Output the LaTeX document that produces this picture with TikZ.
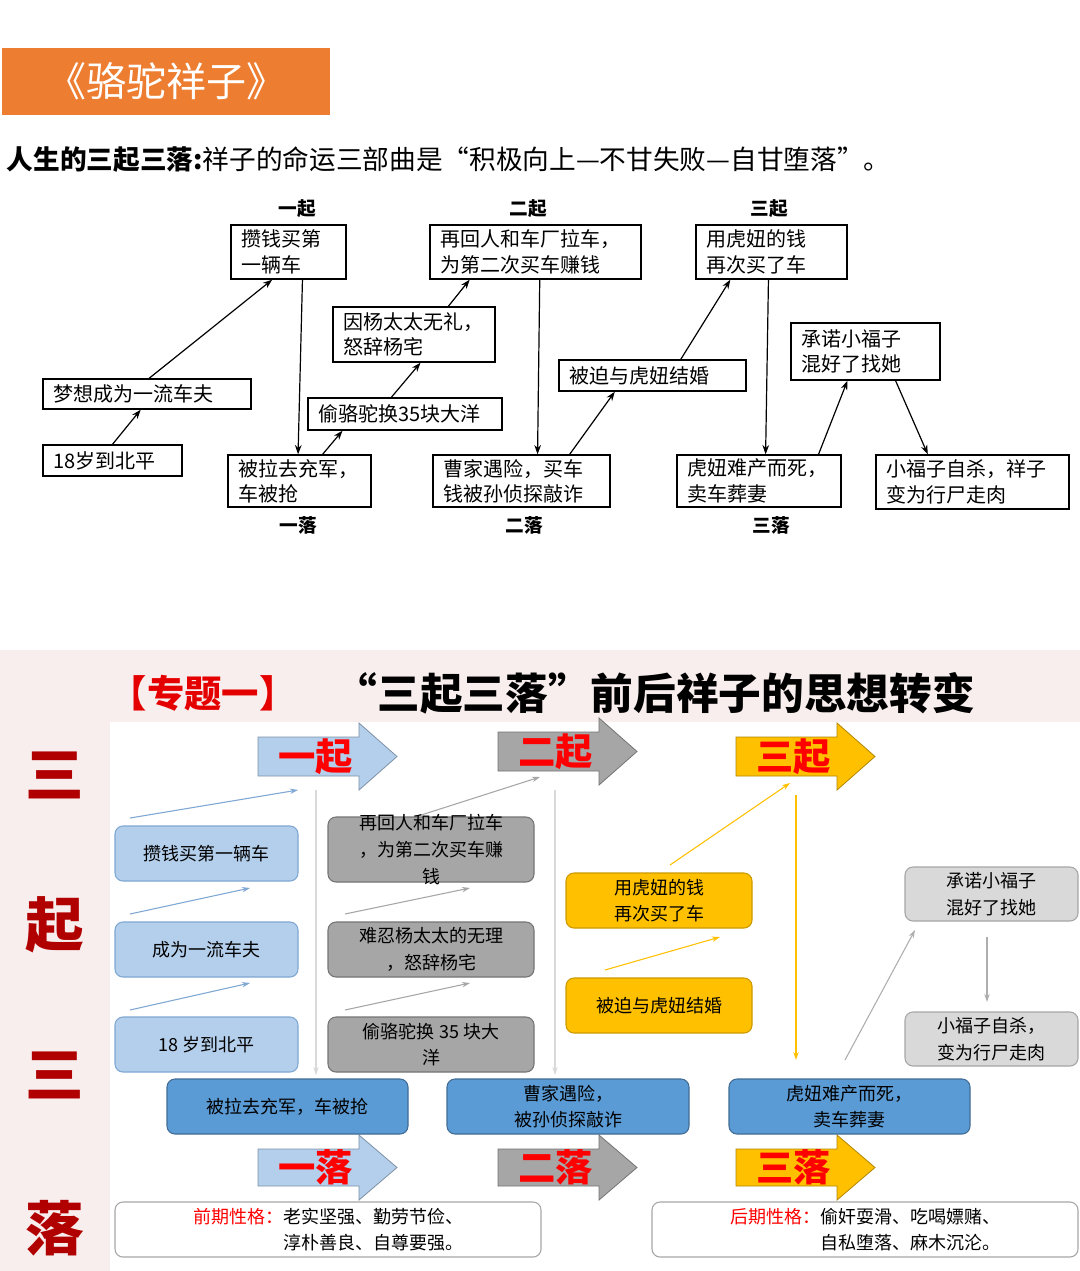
\documentclass[tikz,border=0pt]{standalone}
\usepackage{fontspec}
\setmainfont{Noto Sans CJK SC}
\usetikzlibrary{fit,calc,arrows.meta}
\definecolor{org}{HTML}{ED7D31}
\definecolor{lb}{HTML}{B4CFEC}
\definecolor{lbd}{HTML}{7FA7D3}
\definecolor{mb}{HTML}{5B9BD5}
\definecolor{gr}{HTML}{A6A6A6}
\definecolor{lg}{HTML}{D9D9D9}
\definecolor{yl}{HTML}{FFC000}
\definecolor{rd}{HTML}{B00000}
\definecolor{pk}{HTML}{F8EEEE}
\tikzset{
 tb/.style={draw=black,line width=1pt,fill=white,inner sep=0},
 ttext/.style={font=\fontsize{15}{19}\selectfont,align=left,anchor=west},
 lab/.style={font=\bfseries\fontsize{14}{16}\selectfont},
 ar/.style={-{Stealth[length=7pt,width=5pt]},line width=0.9pt},
 rb/.style={rounded corners=6pt,inner sep=0,line width=0.8pt},
 btext/.style={font=\fontsize{13.5}{20}\selectfont,align=center},
 thin/.style={-{Stealth[length=6pt,width=4pt]},line width=0.8pt},
 bigc/.style={text=rd,font=\bfseries\fontsize{44}{44}\selectfont},
}
\newcommand{\tbox}[6]{\node[tb,fit={(#2,#3)(#4,#5)}] (#1) {};\node[ttext] (#1t) at ($(#1.west)+(6,0)$) {#6};}
\newcommand{\rbox}[7]{\node[rb,#6,fit={(#2,#3)(#4,#5)}] (#1) {};\node[btext] (#1t) at (#1.center) {#7};}
\newcommand{\barrow}[6]{\fill[#6,draw=#6!70!black,line width=0.6pt] (#2,#3+14) -- (#4-38,#3+14) -- (#4-38,#3) -- (#4,{(#3+#5)/2}) -- (#4-38,#5) -- (#4-38,#5-14) -- (#2,#5-14) -- cycle;
 \node[text=red,font=\bfseries\fontsize{28}{28}\selectfont] (#1) at ({(#2+#4)/2-12},{(#3+#5)/2}) {\csname ba#1\endcsname};}
\begin{document}
\begin{tikzpicture}[x=0.75pt,y=-0.75pt]
\useasboundingbox (0,0) rectangle (1080,1271);
\fill[white] (0,0) rectangle (1080,650);
% header
\node[fill=org,fit={(2,48)(330,115)},inner sep=0] (hd) {};
\node[text=white,font=\fontsize{30}{30}\selectfont] (hdt) at (hd.center) {《骆驼祥子》};
\node[anchor=west,font=\fontsize{20}{22}\selectfont] (ttl) at (2,160) {\textbf{人生的三起三落:}祥子的命运三部曲是“积极向上—不甘失败—自甘堕落”。};
% top diagram
\node[lab] (q1) at (297,209) {一起};
\node[lab] (q2) at (528,209) {二起};
\node[lab] (q3) at (769,209) {三起};
\node[lab] (l1) at (298,525) {一落};
\node[lab] (l2) at (524,525) {二落};
\node[lab] (l3) at (771,525) {三落};
\tbox{a1}{231}{225}{346}{279}{攒钱买第\\一辆车}
\tbox{a2}{430}{225}{641}{279}{再回人和车厂拉车，\\为第二次买车赚钱}
\tbox{a3}{696}{225}{847}{279}{用虎妞的钱\\再次买了车}
\tbox{yang}{333}{307}{495}{362}{因杨太太无礼，\\怒辞杨宅}
\tbox{dream}{43}{379}{251}{409}{梦想成为一流车夫}
\tbox{bp}{43}{445}{182}{476}{18岁到北平}
\tbox{camel}{308}{398}{502}{430}{偷骆驼换35块大洋}
\tbox{marry}{559}{360}{746}{391}{被迫与虎妞结婚}
\tbox{prom}{791}{323}{940}{380}{承诺小福子\\混好了找她}
\tbox{b1}{228}{455}{371}{507}{被拉去充军，\\车被抢}
\tbox{b2}{433}{455}{610}{507}{曹家遇险，买车\\钱被孙侦探敲诈}
\tbox{b3}{677}{455}{841}{507}{虎妞难产而死，\\卖车葬妻}
\tbox{suic}{876}{455}{1069}{509}{小福子自杀，祥子\\变为行尸走肉}
\newcommand{\con}[4]{\draw[ar] ($(#1.north west)!#2!(#1.north east)$) -- ($(#3.south west)!#4!(#3.south east)$);}
\newcommand{\cdn}[4]{\draw[ar] ($(#1.south west)!#2!(#1.south east)$) -- ($(#3.north west)!#4!(#3.north east)$);}
\con{bp}{0.5}{dream}{0.47}
\con{dream}{0.51}{a1}{0.36}
\cdn{a1}{0.62}{b1}{0.49}
\con{b1}{0.66}{camel}{0.18}
\con{camel}{0.43}{yang}{0.54}
\con{yang}{0.71}{a2}{0.19}
\cdn{a2}{0.52}{b2}{0.59}
\con{b2}{0.77}{marry}{0.3}
\con{marry}{0.65}{a3}{0.23}
\cdn{a3}{0.48}{b3}{0.54}
\con{b3}{0.86}{prom}{0.38}
\cdn{prom}{0.70}{suic}{0.27}
% bottom
\fill[pk] (0,650) rectangle (1080,1271);
\fill[white] (110,722) rectangle (1080,1271);
\node[anchor=west,text=red!90!black,font=\bfseries\fontsize{28}{28}\selectfont] (zt) at (105,693) {【专题一】};
\node[anchor=west,font=\bfseries\fontsize{32}{32}\selectfont] (zt2) at (330,693) {“三起三落”前后祥子的思想转变};
\node[bigc] (c1) at (55,775) {三};
\node[bigc] (c2) at (55,925) {起};
\node[bigc] (c3) at (55,1075) {三};
\node[bigc] (c4) at (55,1228) {落};
\expandafter\def\csname baqa\endcsname{一起}
\expandafter\def\csname baqb\endcsname{二起}
\expandafter\def\csname baqc\endcsname{三起}
\expandafter\def\csname bala\endcsname{一落}
\expandafter\def\csname balb\endcsname{二落}
\expandafter\def\csname balc\endcsname{三落}
\barrow{qa}{258}{723}{397}{790}{lb}
\barrow{qb}{498}{718}{637}{785}{gr}
\barrow{qc}{736}{723}{875}{790}{yl}
\barrow{la}{258}{1135}{397}{1200}{lb}
\barrow{lb}{498}{1135}{637}{1200}{gr}
\barrow{lc}{736}{1135}{875}{1200}{yl}
% thin arrows
\draw[thin,draw=lbd] (130,818) -- (298,790);
\draw[thin,draw=lbd] (130,914) -- (250,888);
\draw[thin,draw=lbd] (130,1010) -- (250,983);
\draw[thin,draw=lg] (316,790) -- (316,1075);
\draw[thin,draw=gr] (415,817) -- (540,777);
\draw[thin,draw=gr] (345,914) -- (470,888);
\draw[thin,draw=gr] (345,1010) -- (470,983);
\draw[thin,draw=lg] (555,790) -- (555,1075);
\draw[thin,draw=yl] (670,865) -- (790,783);
\draw[thin,draw=yl] (605,970) -- (720,937);
\draw[thin,draw=yl] (796,795) -- (796,1060);
\draw[thin,draw=lg!80!black] (845,1060) -- (915,930);
\draw[thin,draw=lg!80!black] (987,937) -- (987,1002);
% boxes
\rbox{d1}{115}{826}{298}{881}{fill=lb,draw=lbd}{攒钱买第一辆车}
\rbox{d2}{115}{922}{298}{977}{fill=lb,draw=lbd}{成为一流车夫}
\rbox{d3}{115}{1017}{298}{1072}{fill=lb,draw=lbd}{18 岁到北平}
\rbox{e1}{328}{817}{534}{882}{fill=gr,draw=gr!70!black}{再回人和车厂拉车\\，为第二次买车赚\\钱}
\rbox{e2}{328}{922}{534}{977}{fill=gr,draw=gr!70!black}{难忍杨太太的无理\\，怒辞杨宅}
\rbox{e3}{328}{1017}{534}{1072}{fill=gr,draw=gr!70!black}{偷骆驼换 35 块大\\洋}
\rbox{f1}{566}{873}{752}{928}{fill=yl,draw=yl!80!black}{用虎妞的钱\\再次买了车}
\rbox{f2}{566}{978}{752}{1033}{fill=yl,draw=yl!80!black}{被迫与虎妞结婚}
\rbox{g1}{905}{867}{1078}{921}{fill=lg,draw=gr}{承诺小福子\\混好了找她}
\rbox{g2}{905}{1012}{1078}{1066}{fill=lg,draw=gr}{小福子自杀，\\变为行尸走肉}
\rbox{h1}{167}{1079}{408}{1134}{fill=mb,draw=mb!70!black}{被拉去充军，车被抢}
\rbox{h2}{447}{1079}{689}{1134}{fill=mb,draw=mb!70!black}{曹家遇险，\\被孙侦探敲诈}
\rbox{h3}{729}{1079}{970}{1134}{fill=mb,draw=mb!70!black}{虎妞难产而死，\\卖车葬妻}
\node[rb,draw=gr,fill=white,fit={(115,1202)(541,1257)}] (p1) {};
\node[btext,align=left] (p1t) at (p1.center) {\textcolor{red}{前期性格：}老实坚强、勤劳节俭、\\\phantom{前期性格：}淳朴善良、自尊要强。};
\node[rb,draw=gr,fill=white,fit={(652,1202)(1078,1257)}] (p2) {};
\node[btext,align=left] (p2t) at (p2.center) {\textcolor{red}{后期性格：}偷奸耍滑、吃喝嫖赌、\\\phantom{后期性格：}自私堕落、麻木沉沦。};
\end{tikzpicture}
\end{document}
